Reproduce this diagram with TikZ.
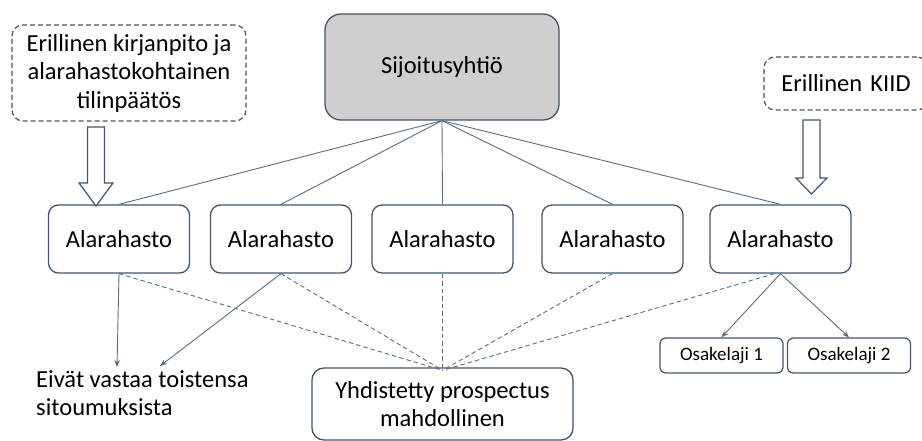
\documentclass[tikz,border=0pt]{standalone}
\usepackage{fontspec}
\setmainfont{Carlito}
\usetikzlibrary{arrows.meta}
\definecolor{bord}{HTML}{44546A}
\definecolor{linec}{HTML}{5B6B82}
\definecolor{sijofill}{HTML}{D0CECE}
\begin{document}
\begin{tikzpicture}[x=1pt,y=-1pt,
  bigfont/.style={font=\fontsize{24.5}{28.5}\selectfont},
  alabox/.style={draw=bord, line width=1.3pt, rounded corners=10pt, minimum width=141pt, minimum height=68pt, inner sep=0pt, bigfont},
  topbox/.style={draw=bord, line width=1.3pt, rounded corners=16pt, fill=sijofill, minimum width=234pt, minimum height=106pt, inner sep=0pt, bigfont},
  notebox/.style={draw=bord, line width=1.2pt, dash pattern=on 5pt off 3pt, rounded corners=11pt, inner sep=0pt, bigfont, align=center},
  smallbox/.style={draw=bord, line width=1.2pt, rounded corners=6pt, minimum width=123pt, minimum height=35pt, inner sep=0pt, font=\fontsize{19}{22}\selectfont},
  conn/.style={draw=linec, line width=0.9pt},
  dconn/.style={draw=linec, line width=0.9pt, dash pattern=on 4.5pt off 3pt},
  aconn/.style={draw=linec, line width=0.9pt, -{Stealth[length=7pt,width=5.5pt]}},
  hollow/.style={draw=bord, line width=1.2pt, fill=white, line join=miter}
]
\useasboundingbox (0,0) rectangle (922,441);
\clip (0,0) rectangle (922,441);

% main nodes
\node[topbox] (sijo) at (442,67) {\raisebox{-6pt}{Sijoitusyhtiö}};
\node[notebox, minimum width=234pt, minimum height=96pt] (note1) at (129,73) {Erillinen kirjanpito ja\\alarahastokohtainen\\tilinpäätös};
\node[notebox, minimum width=164pt, minimum height=53pt, text width=164pt] (note2) at (846,83.5) {Erillinen KIID};

\node[alabox] (a1) at (119,239) {Alarahasto};
\node[alabox] (a2) at (281,239) {Alarahasto};
\node[alabox] (a3) at (442.5,239) {Alarahasto};
\node[alabox] (a4) at (612.5,239) {Alarahasto};
\node[alabox] (a5) at (780.5,239) {Alarahasto};

\node[draw=bord, line width=1.3pt, rounded corners=12pt, minimum width=261pt, minimum height=72pt, inner sep=0pt, bigfont, align=center] (yh) at (442.5,404) {Yhdistetty prospectus\\mahdollinen};

\node[bigfont, align=left, anchor=north west, inner sep=0pt] (eiv) at (36,370) {Eivät vastaa toistensa\\sitoumuksista};

\node[smallbox] (o1) at (721.5,355.5) {Osakelaji 1};
\node[smallbox] (o2) at (849,355.5) {Osakelaji 2};

\coordinate (e1) at (117,367);
\coordinate (e2) at (160,366);

% hollow arrows
\draw[hollow] (87.5,127) -- (104.5,127) -- (104.5,183) -- (113,183) -- (96,206) -- (79,183) -- (87.5,183) -- cycle;
\draw[hollow] (803,120) -- (820,120) -- (820,178) -- (827,178) -- (811.5,194) -- (796,178) -- (803,178) -- cycle;

% connectors from top
\foreach \n in {a1,a2,a3,a4,a5} \draw[conn] (sijo.south) -- (\n.north);

% dashed to prospectus
\foreach \n in {a1,a2,a3,a4} \draw[dconn] (\n.south) -- ([yshift=-3pt]yh.north);
\draw[dconn] ([xshift=-6pt]a5.south) -- ([yshift=-3pt]yh.north);

% solid arrows
\draw[aconn] (a1.south) -- (e1);
\draw[aconn] (a2.south) -- (e2);
\draw[aconn] (a5.south) -- (o1.north);
\draw[aconn] (a5.south) -- (o2.north);
\end{tikzpicture}
\end{document}
